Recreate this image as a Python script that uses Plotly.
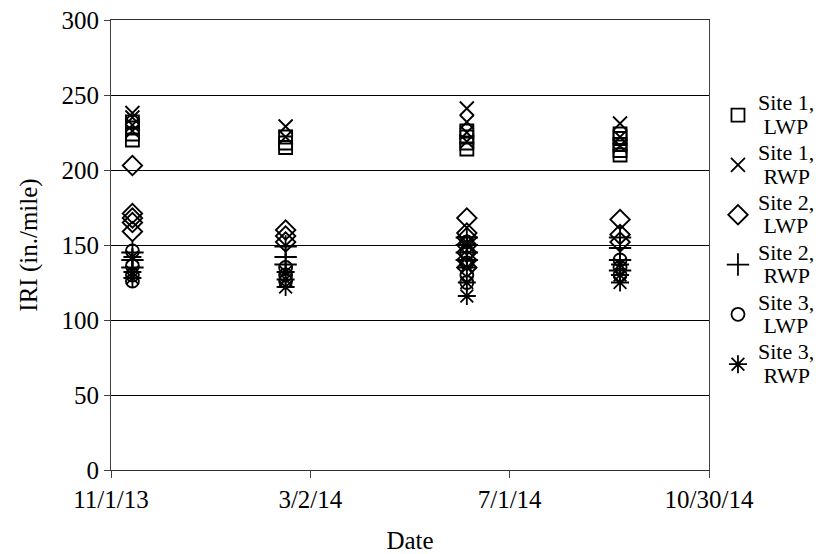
import plotly.graph_objects as go

# Survey dates (one cluster of measurements per date)
dates = ["2013-11-14", "2014-02-15", "2014-06-05", "2014-09-06"]

# IRI values (in./mile) per series, one list per survey date
site1_lwp = [[220, 224, 228, 232], [215, 218, 222], [214, 218, 222, 226], [210, 213, 217, 221, 224]]
site1_rwp = [[226, 230, 235, 238], [222, 229], [219, 225, 232, 241], [216, 222, 231]]
site2_lwp = [[203, 171, 168, 165, 159], [160, 156, 152], [168, 158, 155, 150, 145, 140, 135], [167, 157, 152]]
site2_rwp = [[145, 140, 135], [149, 142, 137], [155, 150, 145, 140], [155, 148, 140, 133]]
site3_lwp = [[146, 136, 130, 126], [135, 130, 126], [152, 145, 138, 130, 125], [140, 135, 130]]
site3_rwp = [[142, 132, 128], [132, 127, 122], [150, 135, 125, 116], [137, 130, 125]]

series_labels = [("Site 1,", "LWP"), ("Site 1,", "RWP"), ("Site 2,", "LWP"),
                 ("Site 2,", "RWP"), ("Site 3,", "LWP"), ("Site 3,", "RWP")]
series_values = [site1_lwp, site1_rwp, site2_lwp, site2_rwp, site3_lwp, site3_rwp]
symbols = ["square-open", "x-thin-open", "diamond-open", "cross-thin-open", "circle-open", "asterisk-open"]
sizes = [13, 14, 15, 16, 13, 15]

x_ticks = ["2013-11-01", "2014-03-02", "2014-07-01", "2014-10-30"]
x_tick_labels = ["11/1/13", "3/2/14", "7/1/14", "10/30/14"]
y_ticks = [0, 50, 100, 150, 200, 250, 300]

fig = go.Figure()
for (l1, l2), vals, sym, sz in zip(series_labels, series_values, symbols, sizes):
    xs, ys = [], []
    for d, group in zip(dates, vals):
        for v in group:
            xs.append(d)
            ys.append(v)
    name = ('<span style="font-size:22px">' + l1 + '</span><br>'
            '<span style="font-size:22px">\u00a0' + l2 + '</span>')
    fig.add_trace(go.Scatter(
        x=xs, y=ys, mode="markers", name=name,
        marker=dict(symbol=sym, size=sz, color="black",
                    line=dict(color="black", width=1.8)),
    ))

font_family = "Liberation Serif, Times New Roman, serif"
fig.update_layout(
    width=828, height=554,
    margin=dict(l=103, r=127, t=12, b=92),
    paper_bgcolor="white", plot_bgcolor="white",
    font=dict(family=font_family, size=25, color="black"),
    showlegend=True,
    legend=dict(x=1.015, y=0.855, xanchor="left", yanchor="top",
                font=dict(family=font_family, size=18, color="black"),
                bgcolor="rgba(0,0,0,0)", itemwidth=30),
    xaxis=dict(
        type="date", range=["2013-11-01", "2014-10-30"],
        tickmode="array", tickvals=x_ticks, ticktext=x_tick_labels,
        showgrid=False, zeroline=False, automargin=False,
        showline=True, linecolor="#303030", linewidth=1, mirror=True,
        ticks="outside", ticklen=7, tickcolor="#404040",
        tickfont=dict(size=25),
        title=dict(text="Date", font=dict(size=25), standoff=19),
    ),
    yaxis=dict(
        range=[0, 300], tickmode="array", tickvals=y_ticks,
        showgrid=True, gridcolor="black", gridwidth=1,
        zeroline=False, ticklabeloverflow="allow", automargin=False,
        showline=True, linecolor="#404040", linewidth=1, mirror=True,
        ticks="outside", ticklen=6, tickcolor="#404040",
        tickfont=dict(size=25),
        title=dict(text="IRI (in./mile)", font=dict(size=25), standoff=16),
    ),
)

fig.write_html("out.html")
